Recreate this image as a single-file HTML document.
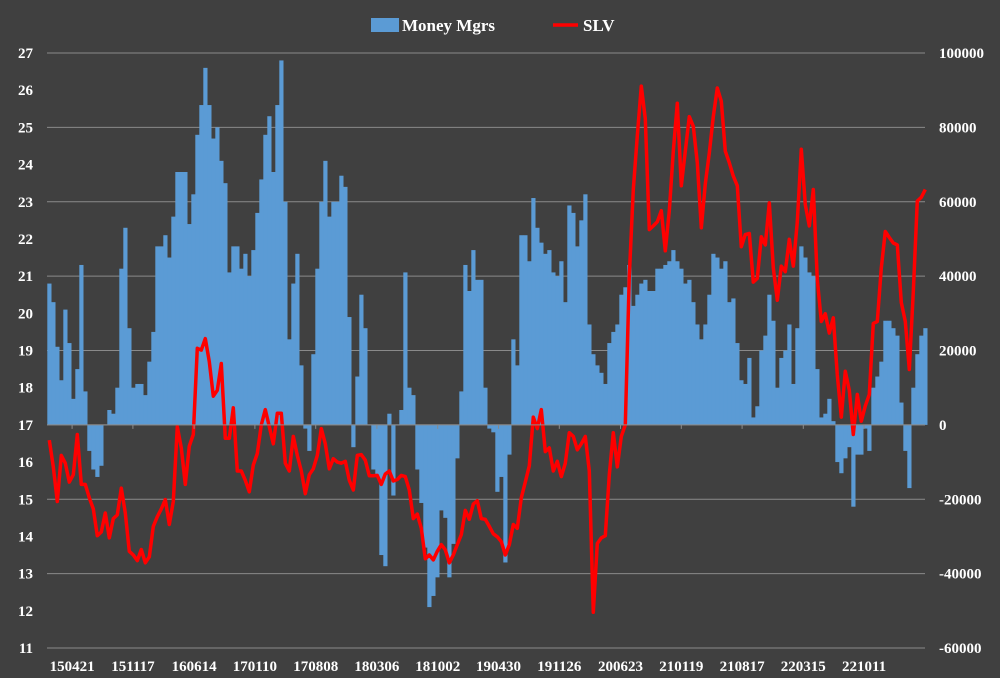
<!DOCTYPE html>
<html><head><meta charset="utf-8"><style>
html,body{margin:0;padding:0;background:#404040;}
svg{display:block;font-family:"Liberation Serif",serif;font-weight:bold;}
</style></head><body>
<svg id="chart" width="1000" height="678" viewBox="0 0 1000 678" xmlns="http://www.w3.org/2000/svg">
<rect x="0" y="0" width="1000" height="678" fill="#404040"/>
<g id="grid"></g>
<g id="bars"></g>
<g id="line"></g>
<g id="axes"></g>
<g>
  <rect x="371" y="18" width="28" height="14" fill="#5b9bd5"/>
  <text x="402" y="31" fill="#fff" font-size="17">Money Mgrs</text>
  <line x1="553" y1="25" x2="578" y2="25" stroke="#ff0000" stroke-width="3.5"/>
  <text x="583" y="31" fill="#fff" font-size="17">SLV</text>
</g>
</svg>
<script>
const mmValues = [38,33,21,12,31,22,7,15,43,9,-7,-12,-14,-11,0,4,3,10,42,53,26,10,11,11,8,17,25,48,48,51,45,56,68,68,68,54,62,78,86,96,86,77,80,71,65,41,48,48,42,46,40,47,57,66,78,83,
68,86,98,60,23,38,46,16,-1,-7,19,42,60,71,56,60,60,67,64,29,-6,13,35,26,0,-12,-14,-35,-38,3,-19,0,4,41,10,8,-12,-21,-33,-49,-46,-41,-23,-25,-41,-32,-9,9,43,36,47,39,39,10,-1,
-2,-18,-14,-37,-8,23,16,51,51,44,61,53,49,46,47,41,40,44,33,59,57,48,55,62,27,19,16,14,11,22,25,27,35,37,43,32,35,38,39,36,36,42,42,43,44,47,44,42,38,39,33,27,23,27,35,
46,45,42,44,33,34,22,12,11,18,2,5,20,24,35,28,10,18,20,27,11,26,48,45,41,40,15,2,3,7,1,-10,-13,-9,-6,-22,-8,-8,-1,-7,10,13,17,28,28,26,24,6,-7,-17,10,19,24,26];
const slvValues = [16.59,15.87,14.94,16.18,15.97,15.46,15.66,16.74,15.40,15.40,15.04,14.74,14.02,14.12,14.63,13.96,14.48,14.58,15.30,14.63,13.60,13.50,13.35,13.65,13.29,13.45,14.27,14.53,14.74,14.99,14.32,14.94,16.95,16.38,15.40,16.43,16.74,19.06,19.01,19.32,18.70,17.77,17.93,18.65,16.64,16.64,17.46,15.76,15.76,15.51,15.20,15.92,16.23,17.0,17.41,16.95,
16.49,17.31,17.31,15.97,15.76,16.69,16.18,15.76,15.15,15.66,15.82,16.18,16.90,16.49,15.82,16.09,16.0,15.97,16.02,15.51,15.25,16.18,16.20,16.05,15.63,15.63,15.64,15.40,15.68,15.76,15.49,15.53,15.64,15.61,15.25,14.48,14.60,14.22,13.40,13.50,13.37,13.60,13.78,13.64,13.29,13.50,13.78,14.05,14.70,14.46,14.87,14.96,14.48,14.46,14.27,
14.07,13.99,13.86,13.50,13.78,14.32,14.22,15.04,15.46,15.90,17.21,16.90,17.41,16.28,16.38,15.76,16.02,15.61,15.97,16.79,16.69,16.33,16.49,16.69,15.76,11.96,13.81,13.96,14.02,15.66,16.79,15.87,16.69,17.0,21.01,23.33,24.77,26.11,25.23,22.25,22.35,22.46,22.76,21.68,22.76,24.36,25.65,23.43,24.36,25.29,25.03,24.05,22.30,23.48,24.31,
25.29,26.06,25.70,24.36,24.05,23.69,23.43,21.79,22.12,22.15,20.84,20.94,22.06,21.84,22.97,21.22,20.35,21.27,21.12,21.99,21.27,22.46,24.41,22.92,22.35,23.33,20.91,19.78,19.99,19.47,19.88,18.34,17.21,18.44,17.93,16.74,17.82,17.10,17.51,17.82,19.73,19.78,21.22,22.20,22.04,21.89,21.84,20.29,19.78,18.49,20.58,23.02,23.12,23.33];
const xTickLabels = ["150421","151117","160614","170110","170808","180306","181002","190430","191126","200623","210119","210817","220315","221011"];
const xTickIndex = [5.7,20.9,36.2,51.4,66.6,81.9,97.1,112.3,127.5,142.8,158.0,173.2,188.5,203.7];
const leftTicks = [11,12,13,14,15,16,17,18,19,20,21,22,23,24,25,26,27];
const rightTicks = [-60000,-40000,-20000,0,20000,40000,60000,80000,100000];

const NS = "http://www.w3.org/2000/svg";
const plotL = 47, plotR = 925, yTop = 53, yBot = 648;
const xAt = i => plotL + 0.3 + 4 * i + 2;
const yLeft = p => yBot - (p - 11) / 16 * (yBot - yTop);
const yRightK = k => yBot - (k + 60) / 160 * (yBot - yTop);
function mk(tag, attrs, parent) { const e = document.createElementNS(NS, tag); for (const k in attrs) e.setAttribute(k, attrs[k]); parent.appendChild(e); return e; }

const grid = document.getElementById('grid');
for (let v = 11; v <= 27; v += 2) {
  const gl = mk('line', {x1: plotL, x2: plotR, y1: yLeft(v), y2: yLeft(v), stroke: '#8a8a8a', 'stroke-width': 1}, grid);
  
  
}
const bars = document.getElementById('bars');
const y0 = yRightK(0);
mmValues.forEach((v, i) => {
  const y = yRightK(v);
  const r = mk('rect', {x: xAt(i) - 2, y: Math.min(y, y0), width: 4.2, height: Math.max(Math.abs(y - y0), 0.5), fill: '#5b9bd5'}, bars);
  
  
});
const axes = document.getElementById('axes');
const zl = mk('line', {x1: plotL, x2: plotR, y1: y0, y2: y0, stroke: '#8a8a8a', 'stroke-width': 1}, axes);


const lineG = document.getElementById('line');
const pts = slvValues.map((p, i) => xAt(i).toFixed(1) + ',' + yLeft(p).toFixed(1)).join(' ');
const pl = mk('polyline', {points: pts, fill: 'none', stroke: '#ff0000', 'stroke-width': 3.5, 'stroke-linejoin': 'round'}, lineG);



leftTicks.forEach(v => {
  const t = mk('text', {x: 33, y: yLeft(v) + 5, 'text-anchor': 'end', fill: '#fff', 'font-size': 15}, axes);
  t.textContent = v;
  
  
});
rightTicks.forEach(v => {
  const t = mk('text', {x: 939, y: yRightK(v / 1000) + 5, 'text-anchor': 'start', fill: '#fff', 'font-size': 15}, axes);
  t.textContent = v;
  
  
});
xTickLabels.forEach((s, k) => {
  const x = xAt(xTickIndex[k]);
  const tk = mk('line', {x1: x, x2: x, y1: y0, y2: y0 + 4, stroke: '#8a8a8a', 'stroke-width': 1}, axes);
  
  
  const t = mk('text', {x: x, y: 671, 'text-anchor': 'middle', fill: '#fff', 'font-size': 15}, axes);
  t.textContent = s;
  
  
});
</script>
</body></html>
